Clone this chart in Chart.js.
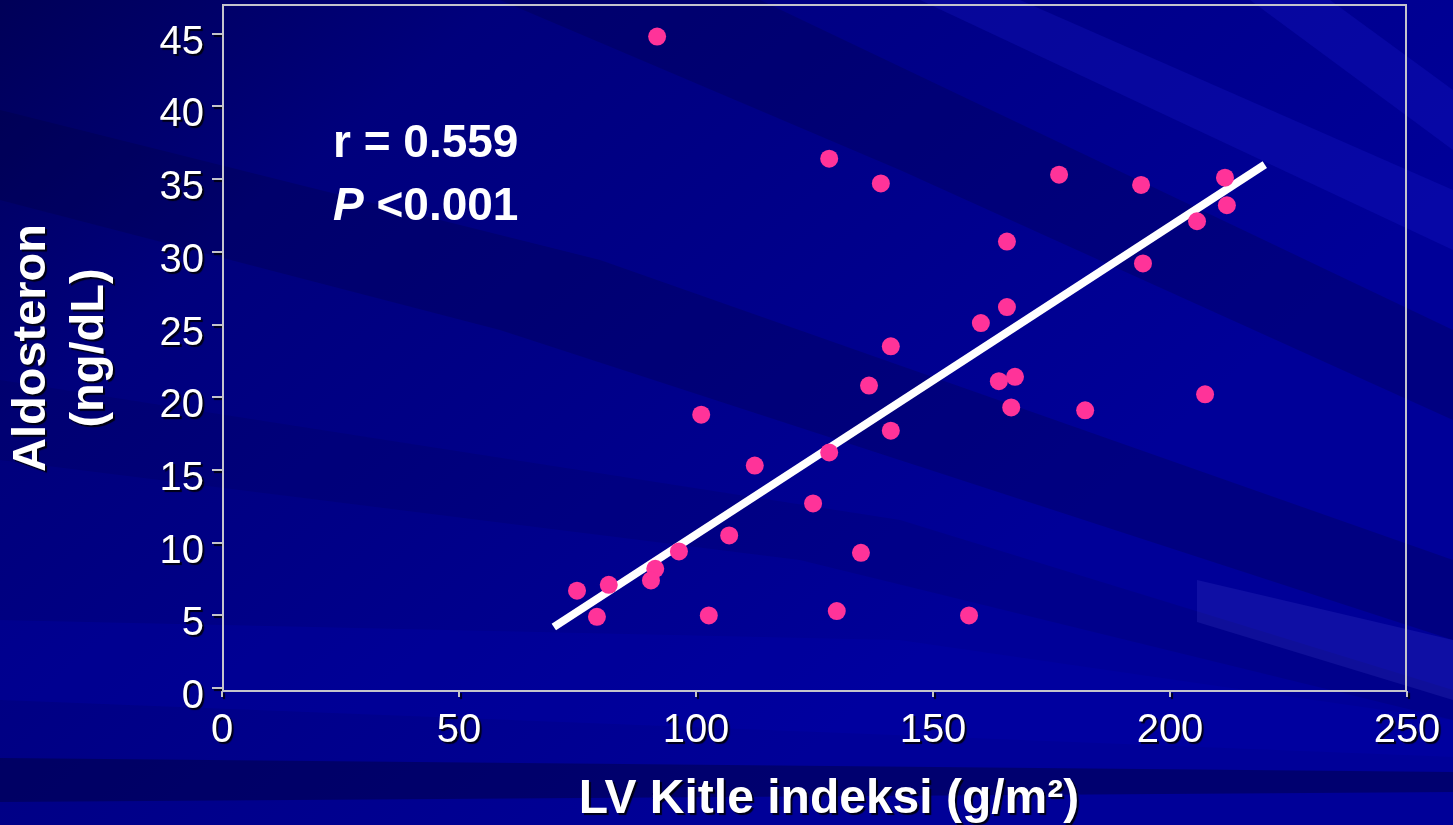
<!DOCTYPE html>
<html>
<head>
<meta charset="utf-8">
<script src="https://cdn.jsdelivr.net/npm/chart.js@4/dist/chart.umd.min.js"></script>
<style>
  html, body { margin: 0; padding: 0; background: #000080; }
  canvas { display: block; }
</style>
</head>
<body>
<canvas id="scatter" width="1453" height="825"></canvas>
<script>
// values
const lvMassIndex = [91.8, 128.1, 139.0, 176.6, 193.9, 211.6, 212.0, 205.7, 165.6, 194.3,
                     165.6, 160.1, 141.1, 136.5, 163.9, 167.3, 166.5, 182.1, 207.4, 101.1,
                     141.1, 112.4, 128.1, 124.7, 107.0, 96.4, 134.8, 91.4, 90.5, 81.6,
                     74.9, 79.1, 102.7, 129.7, 157.6];
const aldosterone = [44.8, 36.4, 34.7, 35.3, 34.6, 35.1, 33.2, 32.1, 30.7, 29.2,
                     26.2, 25.1, 23.5, 20.8, 21.1, 21.4, 19.3, 19.1, 20.2, 18.8,
                     17.7, 15.3, 16.2, 12.7, 10.5, 9.4, 9.3, 8.2, 7.4, 7.1,
                     6.7, 4.9, 5.0, 5.3, 5.0];
const fitX = [70, 220];
const fitY = [4.2, 36.0];
const xTicks = [0, 50, 100, 150, 200, 250];
const yTicks = [0, 5, 10, 15, 20, 25, 30, 35, 40, 45];

const FONT = "'Liberation Sans', Arial, sans-serif";

// keep the plot frame where the layout padding puts it
function noScalePadding(scale) {
  scale.paddingTop = 0;
  scale.paddingBottom = 0;
  scale.paddingLeft = 0;
  scale.paddingRight = 0;
}

// slide background: navy gradient with soft diagonal streaks
const slideBackground = {
  id: 'slideBackground',
  beforeDraw(chart) {
    const ctx = chart.ctx;
    const w = chart.width, h = chart.height;
    ctx.save();
    const g = ctx.createLinearGradient(0, 0, w * 0.5, h);
    g.addColorStop(0, '#000058');
    g.addColorStop(0.3, '#00007c');
    g.addColorStop(0.7, '#00008c');
    g.addColorStop(1, '#000098');
    ctx.fillStyle = g;
    ctx.fillRect(0, 0, w, h);

    const band = (pts, color) => {
      ctx.beginPath();
      ctx.moveTo(pts[0][0], pts[0][1]);
      for (let i = 1; i < pts.length; i++) ctx.lineTo(pts[i][0], pts[i][1]);
      ctx.closePath();
      ctx.fillStyle = color;
      ctx.fill();
    };
    // darker streaks
    band([[0, 110], [600, 260], [1453, 560], [1453, 640], [500, 330], [0, 200]], 'rgba(0,0,50,0.22)');
    band([[500, 0], [760, 0], [1453, 330], [1453, 420], [900, 170]], 'rgba(0,0,50,0.22)');
    band([[0, 380], [900, 520], [1453, 690], [1453, 720], [800, 560], [0, 460]], 'rgba(0,0,50,0.12)');
    band([[0, 758], [1453, 772], [1453, 792], [0, 802]], 'rgba(0,0,50,0.4)');
    // lighter streaks
    band([[920, 0], [1020, 0], [1453, 190], [1453, 250]], 'rgba(30,30,220,0.22)');
    band([[1250, 0], [1330, 0], [1453, 90], [1453, 150]], 'rgba(30,30,220,0.22)');
    band([[0, 620], [900, 640], [1453, 720], [1453, 757], [0, 700]], 'rgba(0,0,180,0.25)');
    band([[1197, 580], [1453, 640], [1453, 700], [1197, 622]], 'rgba(120,120,255,0.12)');
    ctx.restore();

    // tick labels and axis title carry a dark drop shadow
    ctx.shadowColor = 'rgba(0,0,0,0.85)';
    ctx.shadowOffsetX = 2;
    ctx.shadowOffsetY = 2;
    ctx.shadowBlur = 1;
  },
  beforeDatasetsDraw(chart) {
    const ctx = chart.ctx;
    const a = chart.chartArea;
    ctx.shadowColor = 'rgba(0,0,0,0)';
    ctx.shadowOffsetX = 0;
    ctx.shadowOffsetY = 0;
    ctx.shadowBlur = 0;
    ctx.save();
    ctx.strokeStyle = '#c4c4cc';
    ctx.lineWidth = 2;
    ctx.strokeRect(a.left + 1, a.top, a.right - a.left - 2, a.bottom - a.top);
    ctx.restore();
  },
  afterDatasetsDraw(chart) {
    const ctx = chart.ctx;
    ctx.save();
    ctx.fillStyle = '#ffffff';
    ctx.textBaseline = 'alphabetic';
    ctx.textAlign = 'left';
    ctx.font = 'bold 46px ' + FONT;
    ctx.fillText('r = 0.559', 333, 157);
    ctx.font = 'italic bold 46px ' + FONT;
    ctx.fillText('P', 333, 220);
    const pw = ctx.measureText('P').width;
    ctx.font = 'bold 46px ' + FONT;
    ctx.fillText(' <0.001', 333 + pw, 220);

    // x axis title
    ctx.shadowColor = 'rgba(0,0,0,0.85)';
    ctx.shadowOffsetX = 2;
    ctx.shadowOffsetY = 2;
    ctx.shadowBlur = 1;
    ctx.font = 'bold 48px ' + FONT;
    ctx.textAlign = 'center';
    ctx.fillText('LV Kitle indeksi (g/m\u00B2)', 829, 813);
    ctx.restore();
  }
};

const points = lvMassIndex.map((x, i) => ({ x: x, y: aldosterone[i] }));
const fitLine = fitX.map((x, i) => ({ x: x, y: fitY[i] }));

new Chart(document.getElementById('scatter'), {
  type: 'scatter',
  data: {
    datasets: [
      {
        data: points,
        pointRadius: 9,
        pointHoverRadius: 9,
        pointBackgroundColor: '#ff3399',
        pointBorderWidth: 0,
        order: 0
      },
      {
        type: 'line',
        data: fitLine,
        borderColor: '#ffffff',
        borderWidth: 8,
        borderCapStyle: 'butt',
        pointRadius: 0,
        fill: false,
        order: 1
      }
    ]
  },
  options: {
    responsive: false,
    animation: false,
    layout: { autoPadding: false, padding: { left: 0, top: 5, right: 46, bottom: 0 } },
    plugins: { legend: { display: false }, tooltip: { enabled: false } },
    scales: {
      x: {
        type: 'linear',
        min: 0,
        max: 250,
        border: { display: false },
        grid: { drawOnChartArea: false, drawTicks: true, tickLength: 6, color: '#c4c4cc', lineWidth: 2 },
        ticks: { color: '#ffffff', font: { family: FONT, size: 40 }, padding: 10, maxRotation: 0 },
        afterBuildTicks(scale) { scale.ticks = xTicks.map(v => ({ value: v })); },
        afterFit(scale) {
          scale.height = 134;
          noScalePadding(scale);
        }
      },
      y: {
        type: 'linear',
        min: -0.2,
        max: 46.97,
        border: { display: false },
        grid: { drawOnChartArea: false, drawTicks: true, tickLength: 10, color: '#c4c4cc', lineWidth: 2 },
        ticks: { color: '#ffffff', font: { family: FONT, size: 40 }, padding: 8, labelOffset: 9 },
        title: {
          display: true,
          text: ['Aldosteron', '(ng/dL)'],
          color: '#ffffff',
          font: { family: FONT, size: 47, weight: 'bold', lineHeight: 1.23 },
          padding: { top: 3, bottom: 0 }
        },
        afterBuildTicks(scale) { scale.ticks = yTicks.map(v => ({ value: v })); },
        afterFit(scale) {
          scale.width = 222;
          noScalePadding(scale);
        }
      }
    }
  },
  plugins: [slideBackground]
});
</script>
</body>
</html>
